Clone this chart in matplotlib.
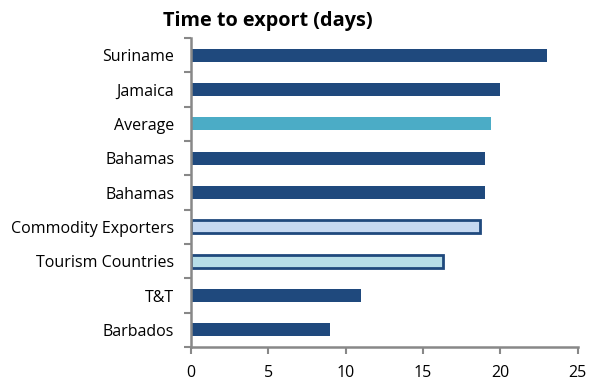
import numpy as np
import matplotlib
matplotlib.use('Agg')
import matplotlib.pyplot as plt

# Data (top to bottom as in the chart)
countries = ['Suriname', 'Jamaica', 'Average', 'Bahamas', 'Bahamas',
             'Commodity Exporters', 'Tourism Countries', 'T&T', 'Barbados']
days = [23, 20, 19.4, 19, 19, 18.7, 16.3, 11, 9]
fills = ['#1F497D', '#1F497D', '#4BACC6', '#1F497D', '#1F497D',
         '#C6D9F1', '#B7DEE8', '#1F497D', '#1F497D']
edges = ['#1F497D', '#1F497D', '#4BACC6', '#1F497D', '#1F497D',
         '#1F497D', '#1F497D', '#1F497D', '#1F497D']
x_ticks = [0, 5, 10, 15, 20, 25]

plt.rcParams['font.family'] = ['Open Sans', 'DejaVu Sans']

fig = plt.figure(figsize=(5.89, 3.84), dpi=100)
ax = fig.add_axes([0.324, 0.096, 0.657, 0.805])

y = np.arange(len(countries))[::-1]
lw = [2 if e != f else 0 for e, f in zip(edges, fills)]
ax.barh(y, days, height=0.38, color=fills, edgecolor=edges, linewidth=lw)

ax.set_xlim(0, 25)
ax.set_ylim(-0.5, len(countries) - 0.5)
ax.set_xticks(x_ticks)
ax.set_yticks(y)
ax.set_yticklabels(countries)
ax.set_yticks(np.arange(-0.5, len(countries), 1), minor=True)
ax.tick_params(axis='y', which='major', length=0, pad=12, labelsize=11.5)
ax.tick_params(axis='y', which='minor', length=5, width=1.5, color='#888888')
ax.tick_params(axis='x', length=5, width=1.5, color='#888888', labelsize=11.5, pad=8)

for s in ['top', 'right']:
    ax.spines[s].set_visible(False)
for s in ['left', 'bottom']:
    ax.spines[s].set_color('#888888')
    ax.spines[s].set_linewidth(1.8)

fig.text(0.455, 0.945, 'Time to export (days)', ha='center', va='center',
         fontsize=14.3, fontweight='bold')

fig.savefig('out.png', dpi=100)
